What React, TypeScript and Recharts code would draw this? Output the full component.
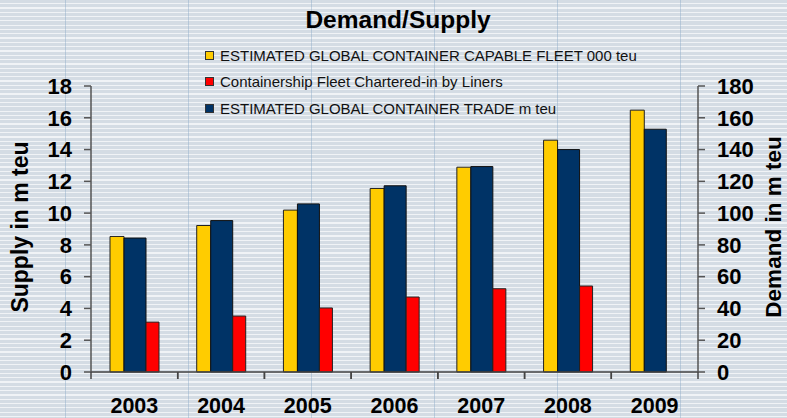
import React from 'react';
import { BarChart, Bar, XAxis, YAxis, Legend } from 'recharts';

const years = ['2003', '2004', '2005', '2006', '2007', '2008', '2009'];
const fleet = [8.53, 9.22, 10.19, 11.55, 12.89, 14.59, 16.48];
const chartered = [3.14, 3.52, 4.03, 4.72, 5.24, 5.41, null];
const trade = [84.3, 95.3, 105.8, 117.2, 129.3, 140.0, 152.8];
const leftTicks = [0, 2, 4, 6, 8, 10, 12, 14, 16, 18];
const rightTicks = [0, 20, 40, 60, 80, 100, 120, 140, 160, 180];
const seriesNames = [
  'ESTIMATED GLOBAL CONTAINER CAPABLE FLEET 000 teu',
  'Containership Fleet Chartered-in by Liners',
  'ESTIMATED GLOBAL CONTAINER TRADE m teu',
];
const seriesColors = ['#FFCC00', '#FF0000', '#003366'];

const data = years.map((y, i) => ({
  year: y,
  fleet: fleet[i],
  chartered: chartered[i],
  trade: trade[i],
}));

const FONT = "Arial, 'Liberation Sans', sans-serif";

const XTick = (props: any) => {
  const { x, y, payload } = props;
  const off =
    payload && payload.offset
      ? payload.offset
      : props.width && props.visibleTicksCount
      ? props.width / props.visibleTicksCount / 2
      : 43;
  return (
    <g>
      <line x1={x - off} x2={x - off} y1={y - 28} y2={y - 21} stroke="#444" strokeWidth={1.5} />
      <line x1={x + off} x2={x + off} y1={y - 28} y2={y - 21} stroke="#444" strokeWidth={1.5} />
      <text x={x} y={y + 12.5} textAnchor="middle" fontSize={21.5} fontWeight="bold" fill="#000" fontFamily={FONT}>
        {payload.value}
      </text>
    </g>
  );
};

const LegendContent = () => (
  <div style={{ fontFamily: FONT }}>
    {seriesNames.map((n, i) => (
      <div
        key={n}
        style={{ display: 'flex', alignItems: 'center', height: 26.5, fontSize: 15, color: '#111', whiteSpace: 'nowrap' }}
      >
        <span
          style={{
            display: 'inline-block',
            width: 7,
            height: 7,
            background: seriesColors[i],
            border: '1px solid #333',
            marginRight: 6,
          }}
        />
        <span style={{ lineHeight: '15px' }}>{n}</span>
      </div>
    ))}
  </div>
);

export default function App() {
  return (
    <div
      style={{
        position: 'absolute',
        left: 0,
        top: 0,
        width: 787,
        height: 418,
        overflow: 'hidden',
        fontFamily: FONT,
        backgroundColor: '#d5dde5',
        backgroundImage:
          'repeating-linear-gradient(90deg, rgba(0,0,0,0) 0px, rgba(0,0,0,0) 122px, rgba(140,170,200,0.45) 122px, rgba(140,170,200,0.45) 123px), repeating-linear-gradient(180deg, #d4dce4 0px, #d4dce4 3px, #f0f3f6 3px, #f0f3f6 4.3px)',
        backgroundPosition: '-57px 0px, 0px 0px',
      }}
    >
      <BarChart
        width={787}
        height={418}
        data={data}
        margin={{ top: 86, right: 0, bottom: 0, left: 0 }}
        barGap={0}
        barCategoryGap="20%"
      >
        <XAxis
          dataKey="year"
          xAxisId={0}
          height={46}
          tickSize={0}
          tickMargin={28}
          tickLine={false}
          axisLine={{ stroke: '#444', strokeWidth: 1.5 }}
          tick={<XTick />}
          interval={0}
        />
        <YAxis
          yAxisId="left"
          orientation="left"
          width={91}
          domain={[0, 18]}
          ticks={leftTicks}
          interval={0}
          tickSize={7}
          tickMargin={12}
          axisLine={{ stroke: '#555', strokeWidth: 1.5 }}
          tickLine={{ stroke: '#555', strokeWidth: 1.5 }}
          tick={{ fontSize: 22, fontWeight: 'bold', fill: '#000', fontFamily: FONT }}
        />
        <YAxis
          yAxisId="right"
          orientation="right"
          width={89}
          domain={[0, 180]}
          ticks={rightTicks}
          interval={0}
          tickSize={7}
          tickMargin={12}
          axisLine={{ stroke: '#555', strokeWidth: 1.5 }}
          tickLine={{ stroke: '#555', strokeWidth: 1.5 }}
          tick={{ fontSize: 22, fontWeight: 'bold', fill: '#000', fontFamily: FONT, textAnchor: 'start' }}
        />
        <Legend
          layout="vertical"
          align="center"
          verticalAlign="middle"
          content={<LegendContent />}
          wrapperStyle={{ position: 'absolute', top: 42, left: 205, width: 460, height: 80 }}
        />
        <Bar
          dataKey="fleet"
          name={seriesNames[0]}
          yAxisId="left"
          fill={seriesColors[0]}
          stroke="#222"
          strokeWidth={1}
          barSize={14}
          isAnimationActive={false}
        />
        <Bar
          dataKey="trade"
          name={seriesNames[2]}
          yAxisId="right"
          fill={seriesColors[2]}
          stroke="#111"
          strokeWidth={1}
          barSize={22}
          isAnimationActive={false}
        />
        <Bar
          dataKey="chartered"
          name={seriesNames[1]}
          yAxisId="left"
          fill={seriesColors[1]}
          stroke="#222"
          strokeWidth={1}
          barSize={13}
          isAnimationActive={false}
        />
      </BarChart>
      <svg
        width={787}
        height={418}
        style={{ position: 'absolute', left: 0, top: 0, pointerEvents: 'none' }}
      >
        <text x={398} y={28} textAnchor="middle" fontSize={24.5} fontWeight="bold" fill="#000" fontFamily={FONT}>
          Demand/Supply
        </text>
        <text
          x={28}
          y={227}
          transform="rotate(-90 28 227)"
          textAnchor="middle"
          fontSize={23}
          fontWeight="bold"
          fill="#000"
          fontFamily={FONT}
        >
          Supply in m teu
        </text>
        <text
          x={781}
          y={227}
          transform="rotate(-90 781 227)"
          textAnchor="middle"
          fontSize={22.5}
          fontWeight="bold"
          fill="#000"
          fontFamily={FONT}
        >
          Demand in m teu
        </text>
      </svg>
    </div>
  );
}
